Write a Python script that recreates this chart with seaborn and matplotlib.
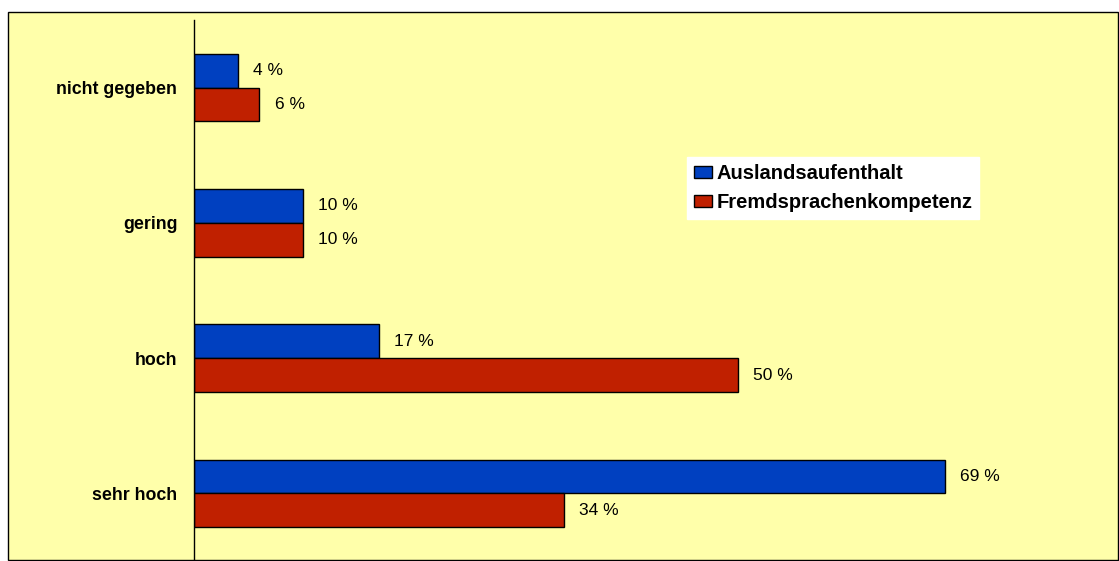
import pandas as pd
import matplotlib.pyplot as plt
import seaborn as sns
from matplotlib.patches import Rectangle

# Daten
kategorien = ['nicht gegeben', 'gering', 'hoch', 'sehr hoch']
auslandsaufenthalt = [4, 10, 17, 69]
fremdsprachen = [6, 10, 50, 34]
serien = ['Auslandsaufenthalt', 'Fremdsprachenkompetenz']

df = pd.DataFrame({
    'Kategorie': kategorien * 2,
    'Wert': auslandsaufenthalt + fremdsprachen,
    'Serie': [serien[0]] * 4 + [serien[1]] * 4,
})

sns.set_style('white')
plt.rcParams['font.family'] = ['Liberation Sans', 'DejaVu Sans']
plt.rcParams['text.color'] = 'black'
plt.rcParams['ytick.color'] = 'black'

fig = plt.figure(figsize=(11.19, 5.61), dpi=100)
fig.patch.set_facecolor('white')

# gelber Hintergrund mit Rahmen
fig.patches.append(Rectangle((8 / 1119, 1 / 561), 1110 / 1119, 548 / 561,
                             transform=fig.transFigure, facecolor='#FFFFAA',
                             edgecolor='black', linewidth=1, zorder=-1))

ax = fig.add_axes([194 / 1119, 0, 925 / 1119, 541 / 561])
ax.set_facecolor('none')
ax.set_zorder(1)

sns.barplot(data=df, x='Wert', y='Kategorie', hue='Serie', orient='h',
            palette=['#0040C0', '#C02000'], saturation=1,
            edgecolor='black', linewidth=1, width=0.5, ax=ax)

for cont in ax.containers:
    ax.bar_label(cont, fmt='%g %%', padding=11, fontsize=12.5, color='black')

ax.set_xlim(0, 85)
ax.set_ylim(3.5, -0.5)
ax.set_xlabel('')
ax.set_ylabel('')
ax.set_xticks([])
for s in ['top', 'right', 'bottom']:
    ax.spines[s].set_visible(False)
ax.spines['left'].set_color('black')
ax.spines['left'].set_linewidth(1)
ax.tick_params(axis='y', length=0, pad=12, labelcolor='black')
for lab in ax.get_yticklabels():
    lab.set_fontweight('bold')
    lab.set_fontsize(12.8)

leg = ax.legend(loc='upper left', bbox_to_anchor=(493 / 925, 1 - 137 / 541),
                frameon=True, fancybox=False, framealpha=1, edgecolor='white',
                prop={'weight': 'bold', 'size': 14.5}, handlelength=0.9,
                handleheight=0.5, handletextpad=0.2, labelspacing=0.5,
                borderpad=0.35, borderaxespad=0)
for t in leg.get_texts():
    t.set_color('black')

fig.savefig('out.png', dpi=100)
